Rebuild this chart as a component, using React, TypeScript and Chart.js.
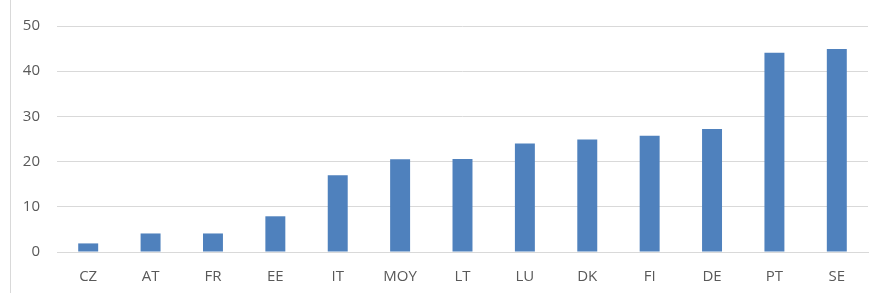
import React, { useEffect, useRef } from "react";
import { Chart, registerables } from "chart.js";

Chart.register(...registerables);

const categories = ["CZ", "AT", "FR", "EE", "IT", "MOY", "LT", "LU", "DK", "FI", "DE", "PT", "SE"];
const values = [1.9, 4.1, 4.1, 7.9, 17.0, 20.5, 20.6, 24.0, 24.9, 25.7, 27.2, 44.1, 44.9];
const yTicks = [0, 10, 20, 30, 40, 50];

const frameLine = {
  id: "frameLine",
  beforeDraw(chart: any) {
    const ctx = chart.ctx;
    ctx.save();
    ctx.strokeStyle = "#d9d9d9";
    ctx.lineWidth = 1;
    ctx.beginPath();
    ctx.moveTo(10.5, 0);
    ctx.lineTo(10.5, 293);
    ctx.stroke();
    ctx.restore();
  },
};

export default function App() {
  const ref = useRef<HTMLCanvasElement | null>(null);
  useEffect(() => {
    if (!ref.current) return;
    const chart = new Chart(ref.current, {
      type: "bar",
      data: {
        labels: categories,
        datasets: [
          {
            data: values,
            backgroundColor: "#4f81bd",
            borderWidth: 0,
            barPercentage: 0.64,
            categoryPercentage: 0.5,
          },
        ],
      },
      options: {
        animation: false,
        responsive: false,
        maintainAspectRatio: false,
        layout: { padding: { top: 26, right: 9, left: 0, bottom: 0 } },
        plugins: { legend: { display: false }, tooltip: { enabled: false } },
        scales: {
          x: {
            grid: { display: false, drawTicks: false },
            border: { display: true, color: "#d9d9d9", width: 1 },
            ticks: {
              color: "#595959",
              font: { family: "'Open Sans'", size: 15 },
              padding: 16,
              maxRotation: 0,
            },
            afterFit: (s: any) => {
              s.height = 44;
              s.paddingLeft = 0;
              s.paddingRight = 0;
            },
          },
          y: {
            min: 0,
            max: 50,
            afterBuildTicks: (s: any) => {
              s.ticks = yTicks.map((v) => ({ value: v }));
            },
            grid: { color: "#d9d9d9", lineWidth: 1, drawTicks: false },
            border: { display: false },
            ticks: {
              color: "#595959",
              font: { family: "'Open Sans'", size: 15 },
              padding: 17,
            },
            afterFit: (s: any) => {
              s.width = 57;
              s.paddingTop = 0;
              s.paddingBottom = 0;
            },
          },
        },
      },
      plugins: [frameLine],
    });
    return () => chart.destroy();
  }, []);
  return (
    <div style={{ position: "fixed", left: 0, top: 0, width: 877, height: 296, background: "#fff" }}>
      <canvas ref={ref} width={877} height={296} style={{ width: 877, height: 296, display: "block" }} />
    </div>
  );
}
